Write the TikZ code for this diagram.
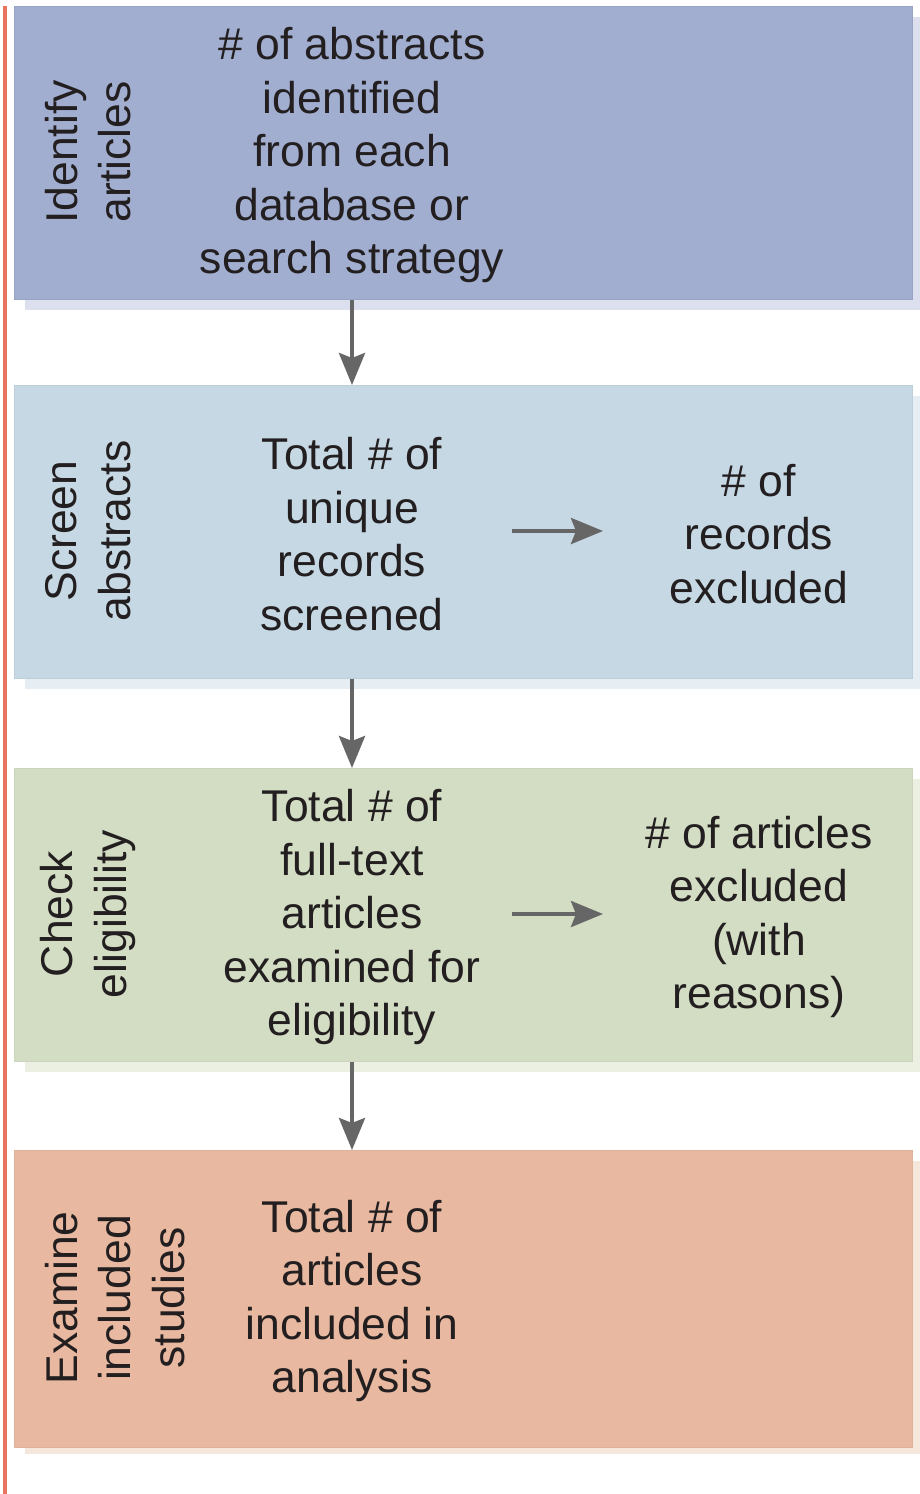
\documentclass[tikz,border=0pt]{standalone}
\usepackage{fontspec}
\setmainfont{Liberation Sans}
\usetikzlibrary{arrows.meta}
\definecolor{inkc}{HTML}{231F20}
\definecolor{arrc}{HTML}{666666}
\definecolor{railc}{HTML}{E8735E}
\definecolor{fillA}{HTML}{A1AED0}
\definecolor{shadA}{HTML}{DCE0EE}
\definecolor{fillB}{HTML}{C5D8E3}
\definecolor{shadB}{HTML}{E6EEF3}
\definecolor{fillC}{HTML}{D3DDC4}
\definecolor{shadC}{HTML}{EBF0E3}
\definecolor{fillD}{HTML}{E8B9A0}
\definecolor{shadD}{HTML}{F6E7DC}
\tikzset{
  x=1pt, y=-1pt,
  stagebox/.style={rectangle, inner sep=0pt, minimum width=898pt, minimum height=293pt, anchor=north west},
  shadowbox/.style={rectangle, inner sep=0pt, minimum width=895pt, minimum height=293pt, anchor=north west},
  body/.style={text=inkc, align=center, inner sep=0pt, font=\fontsize{44.5pt}{53.5pt}\selectfont},
  sidelabel/.style={body, rotate=90},
  arr/.style={draw=arrc, line width=4pt, -{Stealth[length=32pt, width=26pt, inset=5pt]}},
}
\begin{document}
\begin{tikzpicture}
\useasboundingbox (0,0) rectangle (920,1494);
\fill[white] (0,0) rectangle (920,1494);

% left rail
\draw[railc, line width=4.5pt] (5,6) -- (5,1494);

% soft offset shadows
\node[shadowbox, fill=shadA] (s1) at (25,17) {};
\node[shadowbox, fill=shadB] (s2) at (25,396) {};
\node[shadowbox, fill=shadC] (s3) at (25,779) {};
\node[shadowbox, fill=shadD] (s4) at (25,1161) {};

% stage panels
\node[stagebox, fill=fillA, draw=fillA!94!black, line width=0.5pt] (b1) at (14,6) {};
\node[stagebox, fill=fillB, draw=fillB!96!black, line width=0.5pt] (b2) at (14,385) {};
\node[stagebox, fill=fillC, draw=fillC!96!black, line width=0.5pt] (b3) at (14,768) {};
\node[stagebox, fill=fillD, minimum height=297pt, draw=fillD!96!black, line width=0.5pt] (b4) at (14,1150) {};

% stage names
\node[sidelabel] (l1) at (88,152) {Identify\\articles};
\node[sidelabel] (l2) at (88,531) {Screen\\abstracts};
\node[sidelabel] (l3) at (88,914) {Check\\eligibility};
\node[sidelabel] (l4) at (115,1298) {Examine\\included\\studies};

% counts
\node[body] (t1) at (352,155) {\# of abstracts\\identified\\from each\\database or\\search strategy};
\node[body] (t2) at (352,534) {Total \# of\\unique\\records\\screened};
\node[body] (t3) at (352,917) {Total \# of\\full-text\\articles\\examined for\\eligibility};
\node[body] (t4) at (352,1301) {Total \# of\\articles\\included in\\analysis};

\node[body] (r2) at (759,534) {\# of\\records\\excluded};
\node[body] (r3) at (759,917) {\# of articles\\excluded\\(with\\reasons)};

% flow between stages
\draw[arr] (t1 |- b1.south) -- (t1 |- b2.north);
\draw[arr] (t2 |- b2.south) -- (t2 |- b3.north);
\draw[arr] (t3 |- b3.south) -- (t3 |- b4.north);

% exclusions
\coordinate (x2a) at (512,531);
\coordinate (x2b) at (603,531);
\coordinate (x3a) at (512,914);
\coordinate (x3b) at (603,914);
\draw[arr] (x2a) -- (x2b);
\draw[arr] (x3a) -- (x3b);
\end{tikzpicture}
\end{document}
